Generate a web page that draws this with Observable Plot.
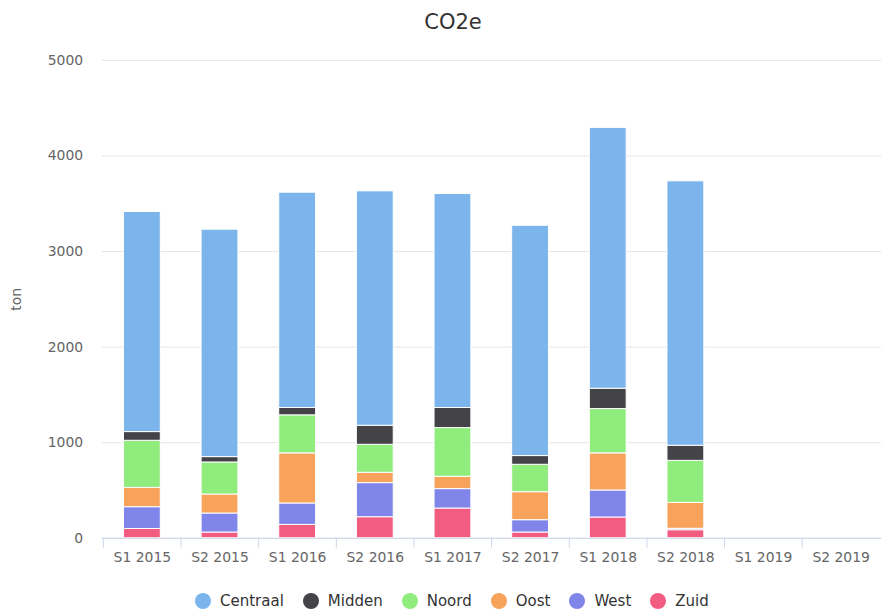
<!DOCTYPE html>
<html>
<head>
<meta charset="utf-8">
<script src="https://cdn.jsdelivr.net/npm/d3@7"></script>
<script src="https://cdn.jsdelivr.net/npm/@observablehq/plot@0.6"></script>
<style>
  html, body { margin: 0; padding: 0; background: #fff; overflow: hidden; }
  body { width: 881px; height: 610px; position: relative; font-family: "DejaVu Sans", sans-serif; }
  #title { position: absolute; left: 453px; top: 0; height: 45px; line-height: 45px; transform: translateX(-50%); font-size: 21px; color: #333; white-space: nowrap; }
  #chart { position: absolute; left: 0; top: 45px; width: 881px; overflow: hidden; }
  #legend { position: absolute; left: 195px; top: 590px; display: flex; align-items: center; height: 22px; }
  .item { display: flex; align-items: center; margin-right: 19px; font-size: 15px; color: #333; }
  .dot { width: 16px; height: 16px; border-radius: 50%; margin-right: 9px; }
</style>
</head>
<body>
<div id="title">CO2e</div>
<div id="chart"></div>
<div id="legend"></div>
<script>
const periods = ["S1 2015", "S2 2015", "S1 2016", "S2 2016", "S1 2017", "S2 2017", "S1 2018", "S2 2018", "S1 2019", "S2 2019"];
const regions = ["Centraal", "Midden", "Noord", "Oost", "West", "Zuid"];
const colors = ["#7cb5ec", "#434348", "#90ed7d", "#f7a35c", "#8085e9", "#f15c80"];
const yTicks = [0, 1000, 2000, 3000, 4000, 5000];

const centraal = [2303, 2380, 2253, 2453, 2239, 2410, 2729, 2767, 0, 0];
const midden   = [91, 56, 77, 199, 210, 91, 213, 158, 0, 0];
const noord    = [493, 335, 398, 293, 510, 287, 464, 440, 0, 0];
const oost     = [202, 199, 524, 108, 129, 293, 388, 271, 0, 0];
const west     = [228, 199, 224, 357, 203, 129, 283, 15, 0, 0];
const zuid     = [97, 60, 140, 220, 311, 60, 217, 84, 0, 0];

const series = {Centraal: centraal, Midden: midden, Noord: noord, Oost: oost, West: west, Zuid: zuid};

// Stack order: Zuid at the bottom, Centraal on top
const rows = [];
for (const r of regions.slice().reverse()) {
  periods.forEach((p, i) => {
    if (series[r][i] > 0) rows.push({period: p, region: r, value: series[r][i]});
  });
}

const step = (885 - 102) / periods.length;

const chart = Plot.plot({
  width: 885,
  height: 530,
  marginTop: 15,
  marginBottom: 35,
  marginLeft: 102,
  marginRight: 0,
  style: {fontFamily: "DejaVu Sans, sans-serif", fontSize: "14px", color: "#666", background: "#fff"},
  x: {domain: periods, paddingInner: 0.53, paddingOuter: 0.265, label: null},
  y: {domain: [0, 5000], ticks: yTicks, label: "ton", labelAnchor: "center", labelArrow: "none"},
  color: {domain: regions, range: colors},
  marks: [
    Plot.gridY(yTicks, {stroke: "#e6e6e6", strokeOpacity: 1}),
    Plot.axisY({ticks: yTicks, tickFormat: d3.format("d"), tickSize: 0, tickPadding: 19, fill: "#666", label: "ton", labelAnchor: "center", labelArrow: "none", labelOffset: 91}),
    Plot.barY(rows, Plot.stackY({x: "period", y: "value", fill: "region", stroke: "#fff", strokeWidth: 1})),
    Plot.ruleY([0], {stroke: "#ccd6eb"}),
    Plot.axisX({tickSize: 0, tickPadding: 14, fill: "#666", label: null}),
    Plot.axisX({tickSize: 10, tickFormat: () => "", dx: -step / 2, stroke: "#ccd6eb", label: null})
  ]
});
document.getElementById("chart").appendChild(chart);

const legend = document.getElementById("legend");
regions.forEach((r, i) => {
  const item = document.createElement("div");
  item.className = "item";
  const dot = document.createElement("span");
  dot.className = "dot";
  dot.style.background = colors[i];
  const label = document.createElement("span");
  label.textContent = r;
  item.appendChild(dot);
  item.appendChild(label);
  legend.appendChild(item);
});
</script>
</body>
</html>
